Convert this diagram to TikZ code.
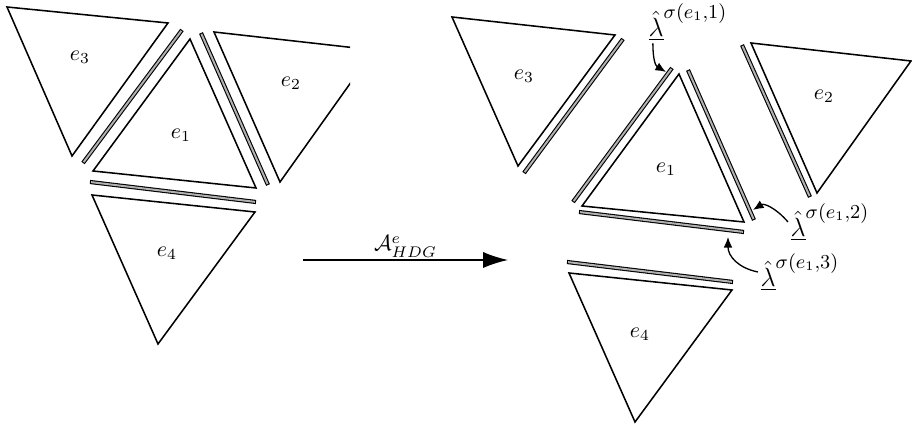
\documentclass[tikz,border=0pt]{standalone}
\usetikzlibrary{arrows.meta}
\begin{document}
\begin{tikzpicture}[
        x=0.016cm, y=-0.016cm,
        elem/.style={draw, line width=0.7pt, line join=miter},
        trace/.style={draw, line width=1.9pt, postaction={draw=gray!60, line width=0.9pt, shorten >=0.5pt, shorten <=0.5pt}},
        lam/.style={inner sep=1pt, anchor=west, font=\large},
        mapping/.style={-{Latex[length=4mm, width=2.6mm]}, line width=0.7pt},
        pointer/.style={-{Latex[length=1.7mm, width=1.4mm]}, line width=0.6pt}
    ]
    \useasboundingbox (0,0) rectangle (912,424);

    % before the mapping
    \draw[elem] (7,7) -- (168,23) -- (72,156) -- cycle;
    \draw[elem] (190,39) -- (93,171) -- (256,188) -- cycle;
    \begin{scope}
        \clip (0,0) rectangle (350,424);
        \draw[elem] (214,32) -- (374,50) -- (280,182) -- cycle;
    \end{scope}
    \draw[elem] (92,195) -- (255,212) -- (158,344) -- cycle;

    \path[trace] (182,30) -- (83,163);
    \path[trace] (201,33) -- (268,185);
    \path[trace] (90,182) -- (256,202);

    \node (LeftE3) at (80,57) {$e_3$};
    \node (LeftE1) at (181,135) {$e_1$};
    \node (LeftE2) at (291,83) {$e_2$};
    \node (LeftE4) at (167,253) {$e_4$};

    % mapping
    \coordinate (MapStart) at (303,260);
    \coordinate (MapEnd) at (508,260);
    \draw[mapping] (MapStart) -- node[above, inner sep=1pt] {$\mathcal{A}^e_{HDG}$} (MapEnd);

    % after the mapping
    \draw[elem] (452,17) -- (615,35) -- (518,166) -- cycle;
    \draw[elem] (679,74) -- (582,206) -- (744,222) -- cycle;
    \draw[elem] (751,43) -- (911,61) -- (817,193) -- cycle;
    \draw[elem] (569,273) -- (732,290) -- (635,422) -- cycle;

    \path[trace] (623,39) -- (524,173);
    \path[trace] (672,68) -- (573,202);
    \path[trace] (688,70) -- (754,220);
    \path[trace] (579,212) -- (744,232);
    \path[trace] (742,45) -- (810,197);
    \path[trace] (567,262) -- (733,282);

    \node (RightE3) at (524,76) {$e_3$};
    \node (RightE1) at (666,169) {$e_1$};
    \node (RightE2) at (824,96) {$e_2$};
    \node (RightE4) at (640,334) {$e_4$};

    \node[lam] (Lam1) at (646,22) {$\underline{\hat{\lambda}}^{\mbox{\small$\sigma(e_1{,}1)$}}$};
    \node[lam] (Lam2) at (788,222) {$\underline{\hat{\lambda}}^{\mbox{\small$\sigma(e_1{,}2)$}}$};
    \node[lam] (Lam3) at (758,272) {$\underline{\hat{\lambda}}^{\mbox{\small$\sigma(e_1{,}3)$}}$};

    \coordinate (Face1) at (666,72);
    \coordinate (Face2) at (753,210);
    \coordinate (Face3) at (728,237);

    \draw[pointer] ([xshift=1.1mm]Lam1.south west) .. controls (653,62) and (656,66) .. (Face1);
    \draw[pointer] (Lam2.west) .. controls (776,208) and (764,203) .. (Face2);
    \draw[pointer] (Lam3.west) .. controls (738,268) and (728,256) .. (Face3);

\end{tikzpicture}
\end{document}
